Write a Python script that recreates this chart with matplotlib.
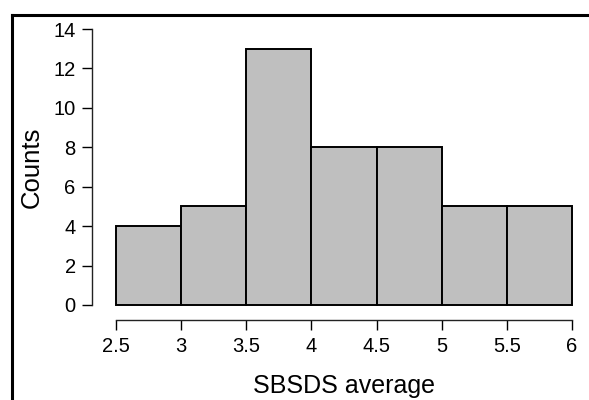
import matplotlib.pyplot as plt
from matplotlib.lines import Line2D

bin_edges = [2.5, 3.0, 3.5, 4.0, 4.5, 5.0, 5.5, 6.0]
counts = [4, 5, 13, 8, 8, 5, 5]
x_ticks = [2.5, 3, 3.5, 4, 4.5, 5, 5.5, 6]
x_tick_labels = ['2.5', '3', '3.5', '4', '4.5', '5', '5.5', '6']
y_ticks = [0, 2, 4, 6, 8, 10, 12, 14]

plt.rcParams['font.family'] = ['Liberation Sans', 'DejaVu Sans']

W, H = 589, 400
fig = plt.figure(figsize=(W / 100, H / 100), dpi=100)
# axes box = data range (2.5..6, 0..14) in pixels
ax = fig.add_axes([116 / W, 1 - 305 / H, (572 - 116) / W, (305 - 29) / H])

widths = [bin_edges[i + 1] - bin_edges[i] for i in range(len(counts))]
ax.bar(bin_edges[:-1], counts, width=widths, align='edge',
       color='#bfbfbf', edgecolor='black', linewidth=1.4, clip_on=False)

ax.set_xlim(2.5, 6)
ax.set_ylim(0, 14)
ax.set_xticks(x_ticks)
ax.set_xticklabels(x_tick_labels)
ax.set_yticks(y_ticks)

for s in ['top', 'right']:
    ax.spines[s].set_visible(False)
ax.spines['left'].set_position(('outward', 17))
ax.spines['bottom'].set_position(('outward', 11))
for s in ['left', 'bottom']:
    ax.spines[s].set_linewidth(1.0)
    ax.spines[s].set_color('#222222')

ax.tick_params(axis='y', labelsize=14.5, length=7, width=1.0, pad=5)
ax.tick_params(axis='x', labelsize=14.5, length=7, width=1.0, pad=5)

ax.set_xlabel('SBSDS average', fontsize=18, labelpad=13)
ax.set_ylabel('Counts', fontsize=18.5, labelpad=7)

# outer frame (top and left edges visible)
fig.add_artist(Line2D([12 / W, 1], [1 - 15 / H, 1 - 15 / H], color='black', linewidth=2.2))
fig.add_artist(Line2D([12 / W, 12 / W], [0, 1 - 15 / H], color='black', linewidth=2.2))

fig.savefig('out.png', dpi=100)
